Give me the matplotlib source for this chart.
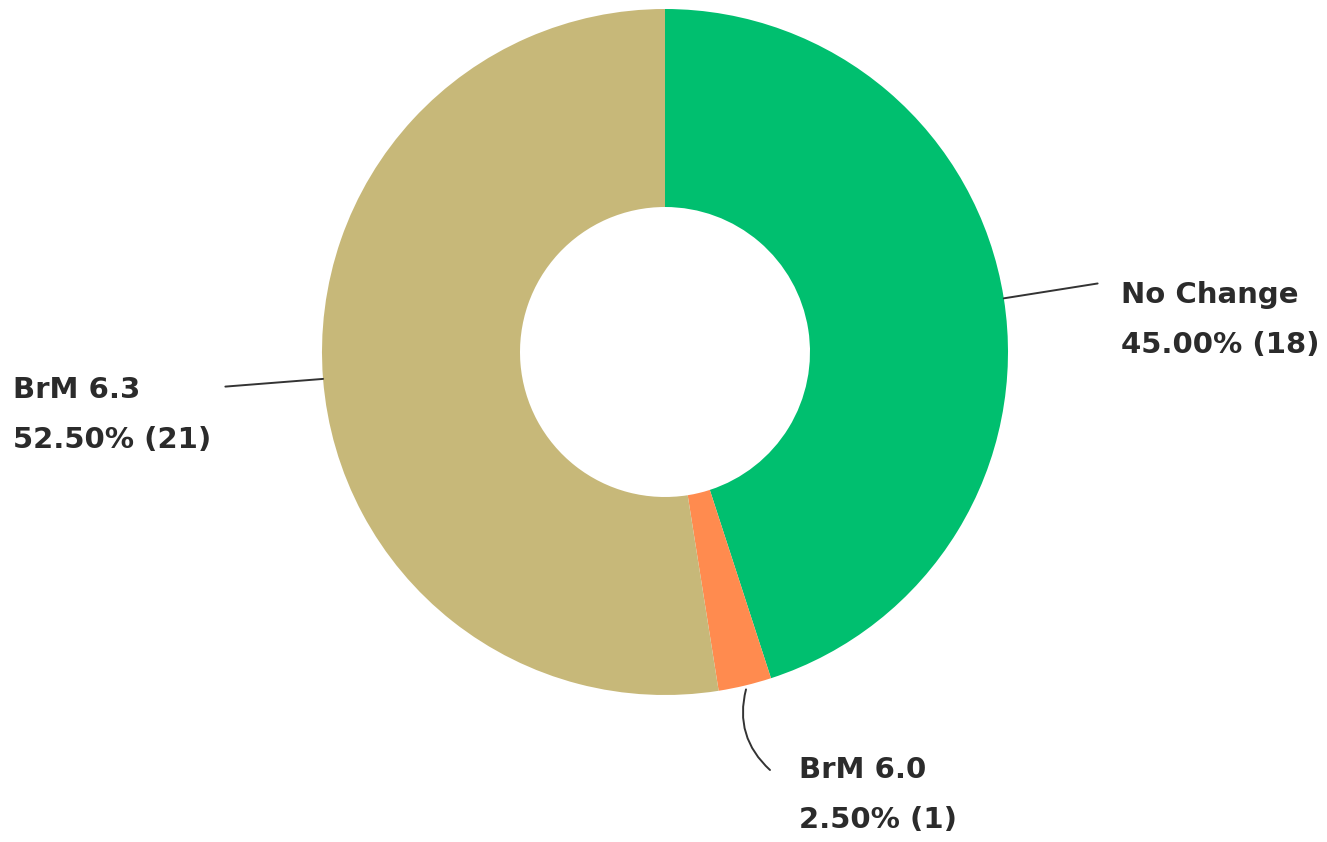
import numpy as np
import matplotlib.pyplot as plt

labels = ['No Change', 'BrM 6.0', 'BrM 6.3']
counts = [18, 1, 21]
percents = [45.00, 2.50, 52.50]
colors = ['#00BF6F', '#FF8B4F', '#C7B879']

plt.rcParams['font.family'] = ['DejaVu Sans']

W, H = 1327, 842
fig = plt.figure(figsize=(W / 100, H / 100), dpi=100)
ax = fig.add_axes([0, 0, 1, 1])

# layout in pixels from top-left, converted to axes data (y up)
cx, cy = 665, H - 352
r_out, r_in = 343, 145

ax.pie(counts, colors=colors, startangle=90, counterclock=False,
       center=(cx, cy), radius=r_out, frame=True,
       wedgeprops=dict(width=r_out - r_in, linewidth=0))
ax.set_xlim(0, W)
ax.set_ylim(0, H)
ax.set_aspect('equal')
ax.axis('off')

# mid angles of each slice
total = sum(counts)
bounds = 90 - 360 * np.cumsum([0] + counts) / total
mids = (bounds[:-1] + bounds[1:]) / 2


def edge_point(ang, r):
    a = np.deg2rad(ang)
    return cx + r * np.cos(a), cy + r * np.sin(a)


txt_kw = dict(fontsize=21, color='#2b2b2b', fontweight='bold',
              va='top', ha='left', linespacing=2.0)
line_kw = dict(arrowstyle='-', color='#333333', lw=1.4, shrinkA=0, shrinkB=0)

# No Change
p = edge_point(mids[0], r_out)
q = edge_point(mids[0], r_out + 95)
ax.annotate('', xy=p, xytext=q, arrowprops=dict(**line_kw))
ax.text(1121, H - 281, f'{labels[0]}\n{percents[0]:.2f}% ({counts[0]})', **txt_kw)

# BrM 6.0
p = edge_point(mids[1], r_out + 4)
ax.annotate('', xy=p, xytext=(770, H - 770),
            arrowprops=dict(connectionstyle='arc3,rad=-0.3', **line_kw))
ax.text(799, H - 756, f'{labels[1]}\n{percents[1]:.2f}% ({counts[1]})', **txt_kw)

# BrM 6.3
p = edge_point(mids[2], r_out)
q = edge_point(mids[2], r_out + 98)
ax.annotate('', xy=p, xytext=q, arrowprops=dict(**line_kw))
ax.text(13, H - 376, f'{labels[2]}\n{percents[2]:.2f}% ({counts[2]})', **txt_kw)

fig.savefig('out.png', dpi=100, facecolor='white')
